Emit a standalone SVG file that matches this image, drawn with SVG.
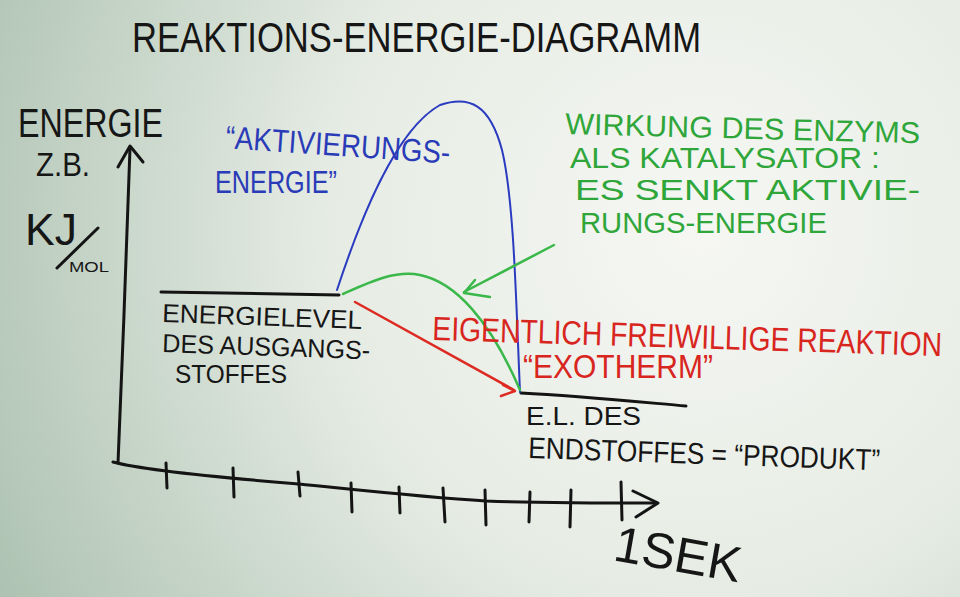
<svg xmlns="http://www.w3.org/2000/svg" width="960" height="597" viewBox="0 0 960 597">
<defs>
<radialGradient id="bg" cx="700" cy="230" r="820" gradientUnits="userSpaceOnUse">
<stop offset="0" stop-color="#f6f7f3"/>
<stop offset="0.45" stop-color="#e6ece4"/>
<stop offset="1" stop-color="#a9bfae"/>
</radialGradient>
<style>
text{font-family:"Liberation Sans","DejaVu Sans",sans-serif;}
.k{fill:#161616}
.b{fill:#2a3bb8}
.g{fill:#2fa63a}
.r{fill:#d8261f}
.ink{fill:none;stroke-linecap:round;stroke-linejoin:round}
.kl{stroke:#141414;stroke-width:3}
.bl{stroke:#2a3bc0;stroke-width:2}
.gl{stroke:#3ab84a;stroke-width:2.5}
.rl{stroke:#dd2a22;stroke-width:2.5}
</style>
</defs>
<rect width="960" height="597" fill="url(#bg)"/>
<g id="title"><text class="k" x="132" y="52" font-size="42" textLength="569" lengthAdjust="spacingAndGlyphs">REAKTIONS-ENERGIE-DIAGRAMM</text></g>
<g id="axes">
<path class="ink kl" d="M130 148 C127 250 122 360 118 463"/>
<path class="ink kl" d="M118 167 L130 146 L143 162"/>
<path class="ink kl" d="M113 462 C150 472 250 480 299 484 C350 489 420 497 486 501 C540 503 600 503 657 503"/>
<path class="ink kl" d="M633 491 L658 503 L636 517"/>
<g class="ink kl" stroke-width="2.5">
<path d="M166 463 L167 488"/><path d="M233 468 L234 497"/><path d="M298 472 L300 496"/><path d="M351 483 L352 512"/><path d="M399 487 L400 513"/><path d="M443 488 L445 522"/><path d="M485 490 L486 525"/><path d="M530 492 L529 522"/><path d="M571 490 L570 527"/><path d="M621 482 L622 520"/>
</g>
</g>
<g id="y-label">
<text class="k" x="18" y="137" font-size="40" textLength="145" lengthAdjust="spacingAndGlyphs">ENERGIE</text>
<text class="k" x="36" y="176" font-size="34" textLength="54" lengthAdjust="spacingAndGlyphs">Z.B.</text>
<text class="k" x="25" y="245" font-size="44" textLength="52" lengthAdjust="spacingAndGlyphs">KJ</text>
<path class="ink kl" d="M57 268 L98 228"/>
<text class="k" x="69" y="272" font-size="14" textLength="40" lengthAdjust="spacingAndGlyphs">MOL</text>
</g>
<g id="x-label"><text class="k" x="612" y="560" font-size="50" transform="rotate(10 612 560)" textLength="128" lengthAdjust="spacingAndGlyphs">1SEK</text></g>
<g id="connectors">
<path class="ink kl" d="M161 292 L339 295"/>
<path class="ink kl" d="M521 393 C580 396 640 402 686 406"/>
<path class="ink bl" d="M337 290 C360 220 395 130 440 105 C470 95 490 105 502 150 C514 200 516 300 520 392"/>
<path class="ink gl" d="M343 294 C370 282 395 270 420 275 C455 282 490 320 520 390"/>
<path class="ink gl" d="M554 245 L464 292"/>
<path class="ink gl" d="M475 280 L464 293 L490 297"/>
<path class="ink rl" d="M355 302 L514 390"/>
<path class="ink rl" d="M503 385 L515 391 L501 396"/>
</g>
<g id="activation-label">
<text class="b" x="225" y="148" font-size="32" transform="rotate(4 225 148)" textLength="225" lengthAdjust="spacingAndGlyphs">“AKTIVIERUNGS-</text>
<text class="b" x="215" y="193" font-size="32" textLength="122" lengthAdjust="spacingAndGlyphs">ENERGIE”</text>
</g>
<g id="enzyme-label">
<text class="g" x="565" y="134" font-size="30" transform="rotate(1.5 565 134)" textLength="355" lengthAdjust="spacingAndGlyphs">WIRKUNG DES ENZYMS</text>
<text class="g" x="570" y="168" font-size="30" textLength="310" lengthAdjust="spacingAndGlyphs">ALS KATALYSATOR :</text>
<text class="g" x="575" y="200" font-size="30" textLength="345" lengthAdjust="spacingAndGlyphs">ES SENKT AKTIVIE-</text>
<text class="g" x="580" y="233" font-size="30" textLength="247" lengthAdjust="spacingAndGlyphs">RUNGS-ENERGIE</text>
</g>
<g id="start-level">
<text class="k" x="162" y="322" font-size="26" transform="rotate(2 162 322)" textLength="200" lengthAdjust="spacingAndGlyphs">ENERGIELEVEL</text>
<text class="k" x="162" y="352" font-size="26" transform="rotate(2 162 352)" textLength="208" lengthAdjust="spacingAndGlyphs">DES AUSGANGS-</text>
<text class="k" x="175" y="383" font-size="26" textLength="112" lengthAdjust="spacingAndGlyphs">STOFFES</text>
</g>
<g id="reaction-label">
<text class="r" x="0" y="0" font-size="28" transform="translate(432 340) rotate(1.8) scale(1 1.2)" textLength="510" lengthAdjust="spacingAndGlyphs">EIGENTLICH FREIWILLIGE REAKTION</text>
<text class="r" x="523" y="378" font-size="34" textLength="190" lengthAdjust="spacingAndGlyphs">“EXOTHERM”</text>
</g>
<g id="end-level">
<text class="k" x="526" y="425" font-size="26" textLength="115" lengthAdjust="spacingAndGlyphs">E.L. DES</text>
<text class="k" x="528" y="458" font-size="30" transform="rotate(2 528 458)" textLength="352" lengthAdjust="spacingAndGlyphs">ENDSTOFFES = “PRODUKT”</text>
</g>
</svg>
